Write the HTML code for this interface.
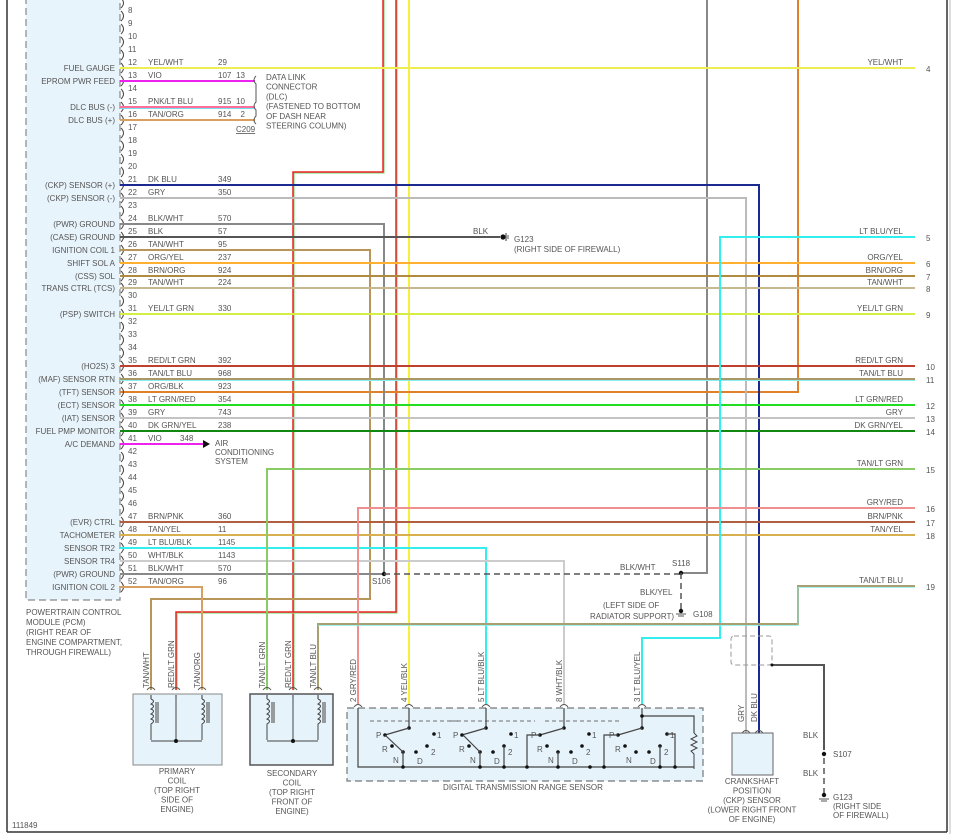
<!DOCTYPE html>
<html><head><meta charset="utf-8"><style>
html,body{margin:0;padding:0;background:#fff;}
svg{display:block;font-family:"Liberation Sans",sans-serif;}
text{fill:#555;font-size:8px;}
</style></head><body>
<svg id="s" width="956" height="836" viewBox="0 0 956 836" xmlns="http://www.w3.org/2000/svg">
<rect x="0" y="0" width="956" height="836" fill="#fff"/>
<line x1="7" y1="0" x2="7" y2="832" stroke="#333" stroke-width="1.5"/>
<line x1="7" y1="832" x2="947" y2="832" stroke="#333" stroke-width="1.5"/>
<line x1="947" y1="0" x2="947" y2="832" stroke="#333" stroke-width="1.5"/>
<line x1="950" y1="0" x2="950" y2="834" stroke="#bbb" stroke-width="1"/>
<rect x="26" y="-2" width="94" height="602" fill="#e8f4fb" stroke="#888" stroke-width="1.2" stroke-dasharray="7,4"/>
<text x="26" y="615">POWERTRAIN CONTROL</text>
<text x="26" y="625">MODULE (PCM)</text>
<text x="26" y="635">(RIGHT REAR OF</text>
<text x="26" y="645">ENGINE COMPARTMENT,</text>
<text x="26" y="655">THROUGH FIREWALL)</text>
<text x="12" y="828">111849</text>
<g id="g"></g>
</svg>
<script>
var o='';
function L(pts,c,w,d){o+='<polyline points="'+pts+'" fill="none" stroke="'+c+'" stroke-width="'+(w||2)+'"'+(d?' stroke-dasharray="'+d+'"':'')+'/>';}
function T(x,y,t,a,extra){o+='<text x="'+x+'" y="'+y+'"'+(a?' text-anchor="'+a+'"':'')+(extra||'')+'>'+t+'</text>';}
function D(x,y,r){o+='<circle cx="'+x+'" cy="'+y+'" r="'+(r||2.2)+'" fill="#111"/>';}
function Y(n){return Math.round(68+(n-12)*12.97);}
L('384,0 384,173 294,173 294,690','#8d8',1.2);L('383,0 383,172 293,172 293,690','#e22',1.5);
L('397,0 397,613 177,613 177,690','#8d8',1.2);L('396,0 396,612 176,612 176,690','#e22',1.5);
L('409,0 409,704','#f4f040',2);
L('707,0 707,573 681,573','#888',2);
L('798,0 798,'+Y(37)+' 120,'+Y(37),'#e0802a',2);
var P={12:['FUEL GAUGE','YEL/WHT','29','#eeee50',915,'4'],13:['EPROM PWR FEED','VIO','107','#ee22ee',255],
15:['DLC BUS (-)','PNK/LT BLU','915','#ff6f9a',255],16:['DLC BUS (+)','TAN/ORG','914','#d8a060',255],
21:['(CKP) SENSOR (+)','DK BLU','349','#1a2a90',759],22:['(CKP) SENSOR (-)','GRY','350','#bbbbbb',746],
24:['(PWR) GROUND','BLK/WHT','570','#888',384],25:['(CASE) GROUND','BLK','57','#555',500],
26:['IGNITION COIL 1','TAN/WHT','95','#b8965a',370],27:['SHIFT SOL A','ORG/YEL','237','#ffb030',915,'6'],
28:['(CSS) SOL','BRN/ORG','924','#b08a40',915,'7'],29:['TRANS CTRL (TCS)','TAN/WHT','224','#c8b890',915,'8'],
31:['(PSP) SWITCH','YEL/LT GRN','330','#d4ee44',915,'9'],35:['(HO2S) 3','RED/LT GRN','392','#c04030',915,'10'],
36:['(MAF) SENSOR RTN','TAN/LT BLU','968','#a89868',915,'11'],37:['(TFT) SENSOR','ORG/BLK','923',null],
38:['(ECT) SENSOR','LT GRN/RED','354','#22dd22',915,'12'],39:['(IAT) SENSOR','GRY','743','#c4c4c4',915,'13'],
40:['FUEL PMP MONITOR','DK GRN/YEL','238','#118811',915,'14'],41:['A/C DEMAND','VIO',null,'#ee22ee',205],
47:['(EVR) CTRL','BRN/PNK','360','#b06040',915,'17'],48:['TACHOMETER','TAN/YEL','11','#d8b050',915,'18'],
49:['SENSOR TR2','LT BLU/BLK','1145','#33eeee',486],50:['SENSOR TR4','WHT/BLK','1143','#cccccc',564],
51:['(PWR) GROUND','BLK/WHT','570','#888',384],52:['IGNITION COIL 2','TAN/ORG','96','#d8a060',202]};
var RL={12:'YEL/WHT',27:'ORG/YEL',28:'BRN/ORG',29:'TAN/WHT',31:'YEL/LT GRN',35:'RED/LT GRN',36:'TAN/LT BLU',38:'LT GRN/RED',39:'GRY',40:'DK GRN/YEL',47:'BRN/PNK',48:'TAN/YEL'};
for(var n=7;n<=52;n++){var y=Y(n);
 o+='<path d="M121,'+(y-5)+' q5,5 0,10" fill="none" stroke="#444" stroke-width="1"/>';
 T(128,y-3,n);
 var p=P[n];if(!p)continue;
 T(115,y+3,p[0],'end');T(148,y-3,p[1]);if(p[2])T(218,y-3,p[2]);
 if(p[3]){
  if(n==21){L('120,'+y+' 759,'+y+' 759,733',p[3]);}
  else if(n==22){L('120,'+y+' 746,'+y+' 746,733',p[3]);}
  else if(n==24){L('120,'+y+' 384,'+y+' 384,574',p[3]);}
  else if(n==26){L('120,'+y+' 370,'+y+' 370,599 151,599 151,690',p[3]);}
  else if(n==49){L('120,'+y+' 486,'+y+' 486,704',p[3]);}
  else if(n==50){L('120,'+y+' 564,'+y+' 564,704',p[3]);}
  else if(n==52){L('120,'+y+' 202,'+y+' 202,690',p[3]);}
  else L('120,'+y+' '+p[4]+','+y,p[3]);
  if(n==15)L('120,'+(y+1.5)+' 255,'+(y+1.5),'#77ddee',1);
  if(n==36)L('120,'+(y+1.5)+' 915,'+(y+1.5),'#88eeee',1);
 }
 if(p[5]){T(903,y-3,RL[n],'end');T(926,y+4,p[5]);}
}
L('915,237 720,237 720,638 642,638 642,704','#33eeee',2);T(903,234,'LT BLU/YEL','end');T(926,241,'5');
L('915,469 267,469 267,690','#88cc66',2);T(903,466,'TAN/LT GRN','end');T(926,473,'15');
L('915,508 358,508 358,704','#ee9090',2);T(903,505,'GRY/RED','end');T(926,512,'16');
L('915,586 798,586 798,624 318,624 318,690','#a8a070',2);L('915,587.5 798,587.5 798,625.5 318,625.5','#88eeee',0.8);T(903,583,'TAN/LT BLU','end');T(926,590,'19');
T(245,78,'13','end');T(245,104,'10','end');T(245,117,'2','end');
o+='<path d="M256,76 q-4,4 0,8 v18 q-4,4 0,8 v6 q-4,4 0,8" fill="none" stroke="#555" stroke-width="1"/>';
['DATA LINK','CONNECTOR','(DLC)','(FASTENED TO BOTTOM','OF DASH NEAR','STEERING COLUMN)'].forEach(function(t,i){T(266,80+i*9.7,t);});
T(236,132,'C209','',' text-decoration="underline"');
T(473,234,'BLK');D(503,237,2.6);L('506,233 506,241','#555',1.2);L('508,235 508,239','#555',1);
T(514,242,'G123');T(514,252,'(RIGHT SIDE OF FIREWALL)');
o+='<polygon points="203,440 210,444 203,448" fill="#111"/>';T(180,441,'348');
T(215,446,'AIR');T(215,455,'CONDITIONING');T(215,464,'SYSTEM');
D(384,574);T(372,584,'S106');L('384,574 681,574','#555',1.5,'6,4');
D(681,573);T(672,566,'S118');T(620,570,'BLK/WHT');
L('681,573 681,610','#555',1.5,'6,4');T(640,595,'BLK/YEL');
T(603,608,'(LEFT SIDE OF');T(590,619,'RADIATOR SUPPORT)');D(681,611);L('676,614 686,614','#555',1);L('678,616 684,616','#555',1);T(693,617,'G108');
function coil(x0,w,dark,a,b,c){
 o+='<rect x="'+x0+'" y="694" width="'+w+'" height="71" fill="#e6f3fa" stroke="'+(dark?'#555':'#888')+'" stroke-width="'+(dark?1.5:1)+'"/>';
 [a,b,c].forEach(function(x){o+='<path d="M'+(x-4)+',690 q4,-5 8,0" fill="none" stroke="#555" stroke-width="1"/>';L(x+',695 '+x+',699','#333',1);});
 [a,c].forEach(function(x){o+='<path d="M'+x+',699 q5,2 0,5 q5,2 0,5 q5,2 0,5 q5,2 0,5 q5,2 0,5 v16" fill="none" stroke="#444" stroke-width="1"/>';L((x+5)+',702 '+(x+5)+',723','#444',1);L((x+7)+',702 '+(x+7)+',723','#444',1);});
 L(b+',697 '+b+',741','#444',1);L(a+',741 '+c+',741','#444',1);D(b,741,2);
}
coil(133,89,false,151,176,202);coil(250,83,true,267,293,318);
['PRIMARY','COIL','(TOP RIGHT','SIDE OF','ENGINE)'].forEach(function(t,i){T(177,774+i*9.5,t,'middle');});
['SECONDARY','COIL','(TOP RIGHT','FRONT OF','ENGINE)'].forEach(function(t,i){T(292,776+i*9.5,t,'middle');});
function V(x,y,t){o+='<text x="'+x+'" y="'+y+'" transform="rotate(-90 '+x+' '+y+')">'+t+'</text>';}
V(149,688,'TAN/WHT');V(174,688,'RED/LT GRN');V(200,688,'TAN/ORG');
V(265,688,'TAN/LT GRN');V(291,688,'RED/LT GRN');V(316,688,'TAN/LT BLU');
V(356,702,'2  GRY/RED');V(407,702,'4  YEL/BLK');V(484,702,'5  LT BLU/BLK');V(562,702,'8  WHT/BLK');V(640,702,'3  LT BLU/YEL');
o+='<rect x="347" y="708" width="356" height="73" fill="#e6f3fa" stroke="#777" stroke-width="1.2" stroke-dasharray="7,4"/>';
T(523,790,'DIGITAL TRANSMISSION RANGE SENSOR','middle');
[358,409,486,564,642].forEach(function(x){o+='<path d="M'+(x-4)+',707 q4,-5 8,0" fill="none" stroke="#555" stroke-width="1"/>';});
L('358,708 358,767 694,767','#444',1.2);
L('370,721 460,721','#444',0.8,'4,3');L('450,721 535,721','#444',0.8,'4,3');L('545,721 620,721','#444',0.8,'4,3');
function grp(dx,pin){
 var x=pin;L(x+',708 '+x+',728','#444',1.2);D(x,728,1.8);
 L((x-24)+',735 '+x+',728','#444',1.2);D(x-24,735,1.8);
 D(x-17,746,1.8);D(x-6,752,1.8);D(x+7,752,1.8);D(x+18,746,1.8);D(x+25,734,1.8);
 T(x-33,738,'P');T(x-27,752,'R');T(x-16,763,'N');T(x+8,764,'D');T(x+28,738,'1');T(x+22,755,'2');
}
grp(0,409);grp(0,486);grp(0,564);grp(0,642);
L('385,735 403,752 403,767','#444',1.2);D(403,767,1.8);
L('463,735 480,752','#444',1.2);L('480,752 480,767','#444',1.2);D(480,767,1.8);L('504,746 504,767','#444',1.2);D(504,767,1.8);
L('540,735 527,735 527,767','#444',1.2);D(527,767,1.8);L('558,752 558,767','#444',1.2);D(558,767,1.8);D(590,767,1.8);
L('618,735 604,735 604,767','#444',1.2);D(604,767,1.8);L('660,746 660,767','#444',1.2);D(660,767,1.8);L('667,734 675,734 675,767','#444',1.2);D(675,767,1.8);
L('642,716 694,716 694,733','#444',1.2);D(642,716,1.8);
o+='<path d="M694,733 l3,3 -6,3 6,3 -6,3 6,3 -6,3 3,3 v15" fill="none" stroke="#444" stroke-width="1"/>';
o+='<rect x="731" y="636" width="41" height="29" fill="none" stroke="#999" stroke-width="1" stroke-dasharray="5,3" rx="3"/>';
L('772,665 824,665 824,750','#555',2);D(772,665,1.5);
L('824,758 824,794','#555',1.5,'6,4');D(824,754);D(824,795);L('819,799 829,799','#555',1);L('821,801 827,801','#555',1);
T(803,738,'BLK');T(833,757,'S107');T(803,776,'BLK');T(833,800,'G123');T(833,809,'(RIGHT SIDE');T(833,818,'OF FIREWALL)');
[746,759].forEach(function(x){o+='<path d="M'+(x-4)+',733 q4,-5 8,0" fill="none" stroke="#555" stroke-width="1"/>';});
V(744,722,'GRY');V(757,722,'DK BLU');
o+='<rect x="732" y="733" width="41" height="42" fill="#e6f3fa" stroke="#666" stroke-width="1"/>';
['CRANKSHAFT','POSITION','(CKP) SENSOR','(LOWER RIGHT FRONT','OF ENGINE)'].forEach(function(t,i){T(752,784+i*9.5,t,'middle');});
document.getElementById('g').innerHTML=o;
</script>
</body></html>
